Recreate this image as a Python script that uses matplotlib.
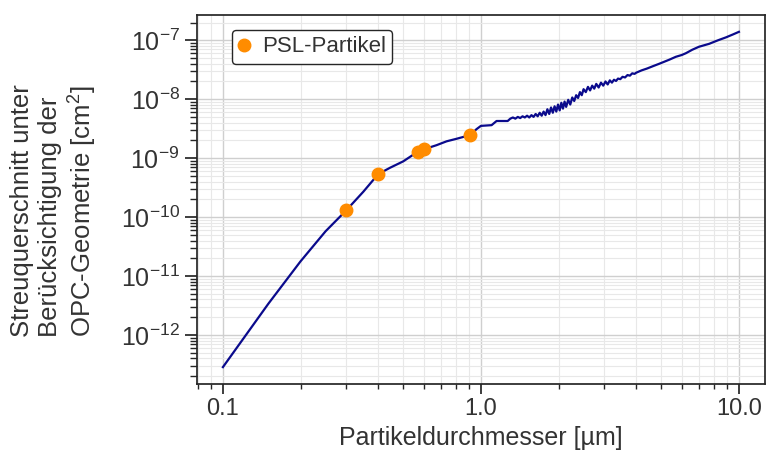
import matplotlib
matplotlib.use("Agg")
import matplotlib.pyplot as plt
from matplotlib.ticker import FormatStrFormatter, NullFormatter

# Streuquerschnitt (OPC-Geometrie) ueber Partikeldurchmesser
diameter_um = [
    0.10, 0.15, 0.20, 0.25, 0.30, 0.35, 0.40, 0.444, 0.50, 0.546, 0.57, 0.60,
    0.673, 0.736, 0.804, 0.91, 0.961, 1.00, 1.08, 1.10, 1.15, 1.27, 1.30,
    1.33, 1.36, 1.39, 1.42, 1.45, 1.48, 1.51, 1.54, 1.57, 1.60, 1.63, 1.66,
    1.69, 1.72, 1.75, 1.78, 1.81, 1.84, 1.87, 1.90, 1.93, 1.96, 1.99, 2.02,
    2.05, 2.08, 2.11, 2.14, 2.18, 2.22, 2.26, 2.30, 2.34, 2.38, 2.42, 2.46,
    2.50, 2.55, 2.60, 2.65, 2.70, 2.75, 2.80, 2.86, 2.92, 2.98, 3.04, 3.10,
    3.16, 3.22, 3.28, 3.34, 3.40, 3.47, 3.54, 3.62, 3.70, 3.78, 3.86, 3.94,
    4.00, 4.20, 4.40, 4.64, 4.90, 5.10, 5.37, 5.70, 6.00, 6.23, 6.60, 7.00,
    7.67, 8.30, 8.91, 9.50, 10.0,
]
cross_section_cm2 = [
    2.85e-13, 3.39e-12, 1.78e-11, 5.75e-11, 1.29e-10, 2.69e-10, 5.37e-10,
    6.86e-10, 8.83e-10, 1.14e-9, 1.23e-9, 1.41e-9,
    1.66e-9, 1.93e-9, 2.13e-9, 2.47e-9, 3.10e-9, 3.53e-9, 3.61e-9, 3.63e-9,
    4.27e-9, 4.27e-9, 4.68e-9,
    4.90e-9, 4.68e-9, 5.01e-9, 4.79e-9, 5.13e-9, 4.90e-9, 5.25e-9, 4.90e-9,
    5.37e-9, 5.01e-9, 5.62e-9, 5.13e-9,
    5.89e-9, 5.25e-9, 6.17e-9, 5.37e-9, 6.76e-9, 5.62e-9, 7.24e-9, 5.89e-9,
    7.59e-9, 6.17e-9, 8.13e-9, 6.46e-9,
    8.71e-9, 6.92e-9, 9.12e-9, 7.41e-9, 9.77e-9, 8.13e-9, 1.07e-8, 9.33e-9,
    1.17e-8, 1.05e-8, 1.32e-8, 1.17e-8,
    1.48e-8, 1.32e-8, 1.62e-8, 1.41e-8, 1.70e-8, 1.51e-8, 1.82e-8, 1.58e-8,
    1.91e-8, 1.70e-8, 2.00e-8, 1.78e-8,
    2.09e-8, 1.91e-8, 2.14e-8, 2.04e-8, 2.24e-8, 2.19e-8, 2.40e-8, 2.34e-8,
    2.57e-8, 2.51e-8, 2.75e-8, 2.69e-8,
    2.82e-8, 3.09e-8, 3.31e-8, 3.63e-8, 3.98e-8, 4.27e-8, 4.68e-8, 5.25e-8,
    5.62e-8, 6.03e-8, 6.92e-8, 7.76e-8,
    8.71e-8, 1.00e-7, 1.12e-7, 1.26e-7, 1.39e-7,
]

# PSL-Kalibrierpartikel
psl_diameter_um = [0.30, 0.40, 0.57, 0.60, 0.91]
psl_cross_section_cm2 = [1.32e-10, 5.4e-10, 1.25e-9, 1.45e-9, 2.5e-9]

plt.rcParams['font.family'] = ['Liberation Sans', 'DejaVu Sans']
plt.rcParams['mathtext.default'] = 'regular'

dark = '#262626'
txt = '#333333'
fig = plt.figure(figsize=(7.67, 4.57), dpi=100)
ax = fig.add_axes([0.257, 0.160, 0.740, 0.807])

ax.plot(diameter_um, cross_section_cm2, color='#0a0a8c', lw=1.6, zorder=3)
ax.plot(psl_diameter_um, psl_cross_section_cm2, 'o', color='#ff8c00',
        ms=9, label='PSL-Partikel', zorder=4)

ax.set_xscale('log')
ax.set_yscale('log')

ax.xaxis.set_major_formatter(FormatStrFormatter('%.1f'))
ax.xaxis.set_minor_formatter(NullFormatter())
ax.yaxis.set_minor_formatter(NullFormatter())

ax.grid(True, which='major', color='#cfcfcf', lw=1.0, zorder=0)
ax.grid(True, which='minor', color='#e8e8e8', lw=0.8, zorder=0)
ax.set_axisbelow(True)

for s in ax.spines.values():
    s.set_color(dark)
    s.set_linewidth(1.25)
ax.tick_params(axis='x', which='major', direction='out', length=7, width=1.25,
               colors=dark, labelsize=17, labelcolor=txt)
ax.tick_params(axis='x', which='minor', direction='out', length=3.5, width=1.0,
               colors=dark)
ax.tick_params(axis='y', which='major', direction='out', length=9, width=1.25,
               colors=dark, labelsize=18, labelcolor=txt)
ax.tick_params(axis='y', which='minor', direction='out', length=5, width=1.0,
               colors=dark)

ax.set_xlabel('Partikeldurchmesser [µm]', fontsize=18, color=txt)
ax.set_ylabel('Streuquerschnitt unter\nBerücksichtigung der\nOPC-Geometrie [cm$^2$]',
              fontsize=18.5, color=txt, linespacing=1.2, multialignment='left')
ax.yaxis.set_label_coords(-0.173, 0.47)

leg = ax.legend(loc='upper left', bbox_to_anchor=(0.061, 0.96), borderaxespad=0,
                fontsize=16, handlelength=0.5, handletextpad=0.55, borderpad=0.3,
                numpoints=1, fancybox=True, framealpha=1)
leg.get_frame().set_edgecolor(dark)
leg.get_frame().set_linewidth(1.0)
for t in leg.get_texts():
    t.set_color(txt)

fig.savefig('out.png', dpi=100)
